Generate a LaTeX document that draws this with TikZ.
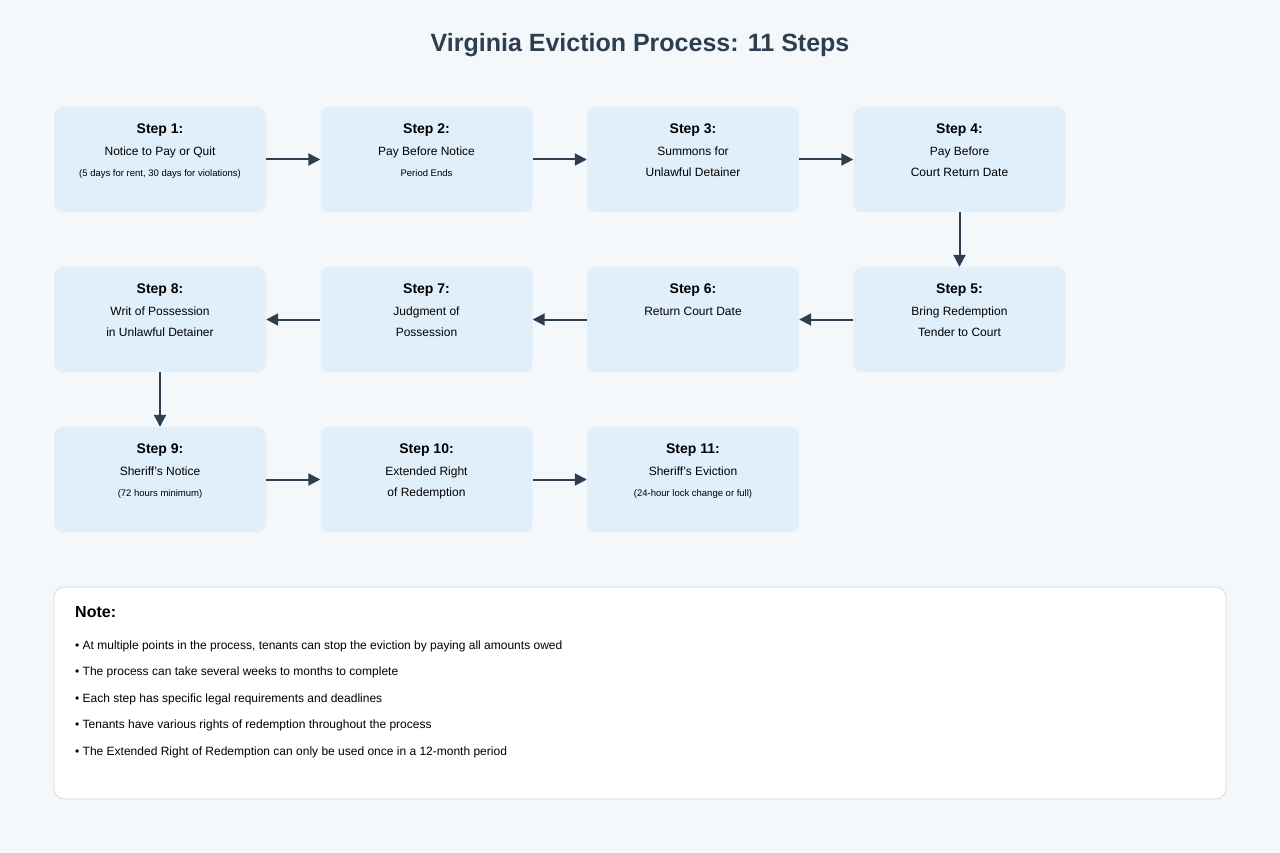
\documentclass[tikz,border=0pt]{standalone}
\usepackage{fontspec}
\setmainfont{Liberation Sans}
\usetikzlibrary{arrows.meta}
\definecolor{bg}{HTML}{F5F8FB}
\definecolor{boxc}{HTML}{E1EFFB}
\definecolor{dark}{HTML}{2C3E50}
\definecolor{bord}{HTML}{D5D9DD}
\begin{document}
\begin{tikzpicture}[x=1pt,y=-1pt,
  box/.style={fill=boxc,rounded corners=8pt,minimum width=212pt,minimum height=105pt,inner sep=0pt},
  txt/.style={anchor=north,align=center,font=\fontsize{12}{21.5}\selectfont,inner sep=0pt},
  arr/.style={draw=dark,line width=2pt,-{Triangle[length=12pt,width=12pt]}},
  sm/.style={}]
\fill[bg] (0,0) rectangle (1280,853);
\useasboundingbox (0,0) rectangle (1280,853);
\node[font=\bfseries\fontsize{25}{30}\selectfont,text=dark] (title) at (640,45) {Virginia Eviction Process: 11 Steps};
\newcommand{\mysm}[1]{{\fontsize{9.5}{21.5}\selectfont #1}}
\newcommand{\myhd}[1]{{\bfseries\fontsize{14}{21.5}\selectfont #1}}
\foreach \n/\x/\y in {1/160/159.5,2/426.5/159.5,3/693/159.5,4/959.5/159.5,5/959.5/319.5,6/693/319.5,7/426.5/319.5,8/160/319.5,9/160/479.5,10/426.5/479.5,11/693/479.5}
  \node[box] (b\n) at (\x,\y) {};
\node[txt] (t1) at ([yshift=-17pt]b1.north) {\myhd{Step 1:}\\Notice to Pay or Quit\\\mysm{(5 days for rent, 30 days for violations)}};
\node[txt] (t2) at ([yshift=-17pt]b2.north) {\myhd{Step 2:}\\Pay Before Notice\\\mysm{Period Ends}};
\node[txt] (t3) at ([yshift=-17pt]b3.north) {\myhd{Step 3:}\\Summons for\\Unlawful Detainer};
\node[txt] (t4) at ([yshift=-17pt]b4.north) {\myhd{Step 4:}\\Pay Before\\Court Return Date};
\node[txt] (t5) at ([yshift=-17pt]b5.north) {\myhd{Step 5:}\\Bring Redemption\\Tender to Court};
\node[txt] (t6) at ([yshift=-17pt]b6.north) {\myhd{Step 6:}\\Return Court Date};
\node[txt] (t7) at ([yshift=-17pt]b7.north) {\myhd{Step 7:}\\Judgment of\\Possession};
\node[txt] (t8) at ([yshift=-17pt]b8.north) {\myhd{Step 8:}\\Writ of Possession\\in Unlawful Detainer};
\node[txt] (t9) at ([yshift=-17pt]b9.north) {\myhd{Step 9:}\\Sheriff's Notice\\\mysm{(72 hours minimum)}};
\node[txt] (t10) at ([yshift=-17pt]b10.north) {\myhd{Step 10:}\\Extended Right\\of Redemption};
\node[txt] (t11) at ([yshift=-17pt]b11.north) {\myhd{Step 11:}\\Sheriff's Eviction\\\mysm{(24-hour lock change or full)}};
\draw[arr] (b1) -- (b2);
\draw[arr] (b2) -- (b3);
\draw[arr] (b3) -- (b4);
\draw[arr] (b4) -- (b5);
\draw[arr] (b5) -- (b6);
\draw[arr] (b6) -- (b7);
\draw[arr] (b7) -- (b8);
\draw[arr] (b8) -- (b9);
\draw[arr] (b9) -- (b10);
\draw[arr] (b10) -- (b11);
\node[draw=bord,fill=white,rounded corners=10pt,line width=0.8pt,minimum width=1172pt,minimum height=212pt,inner sep=0pt] (note) at (640,693) {};
\node[anchor=west,font=\bfseries\fontsize{16}{20}\selectfont,inner sep=0pt] (nh) at (75,612) {Note:};
\foreach \t/\y [count=\i] in {{At multiple points in the process, tenants can stop the eviction by paying all amounts owed}/646,{The process can take several weeks to months to complete}/672,{Each step has specific legal requirements and deadlines}/699,{Tenants have various rights of redemption throughout the process}/725,{The Extended Right of Redemption can only be used once in a 12-month period}/752}
  \node[anchor=west,font=\fontsize{12}{14}\selectfont,inner sep=0pt] (n\i) at (75,\y) {\textbullet\ \t};
\end{tikzpicture}
\end{document}
